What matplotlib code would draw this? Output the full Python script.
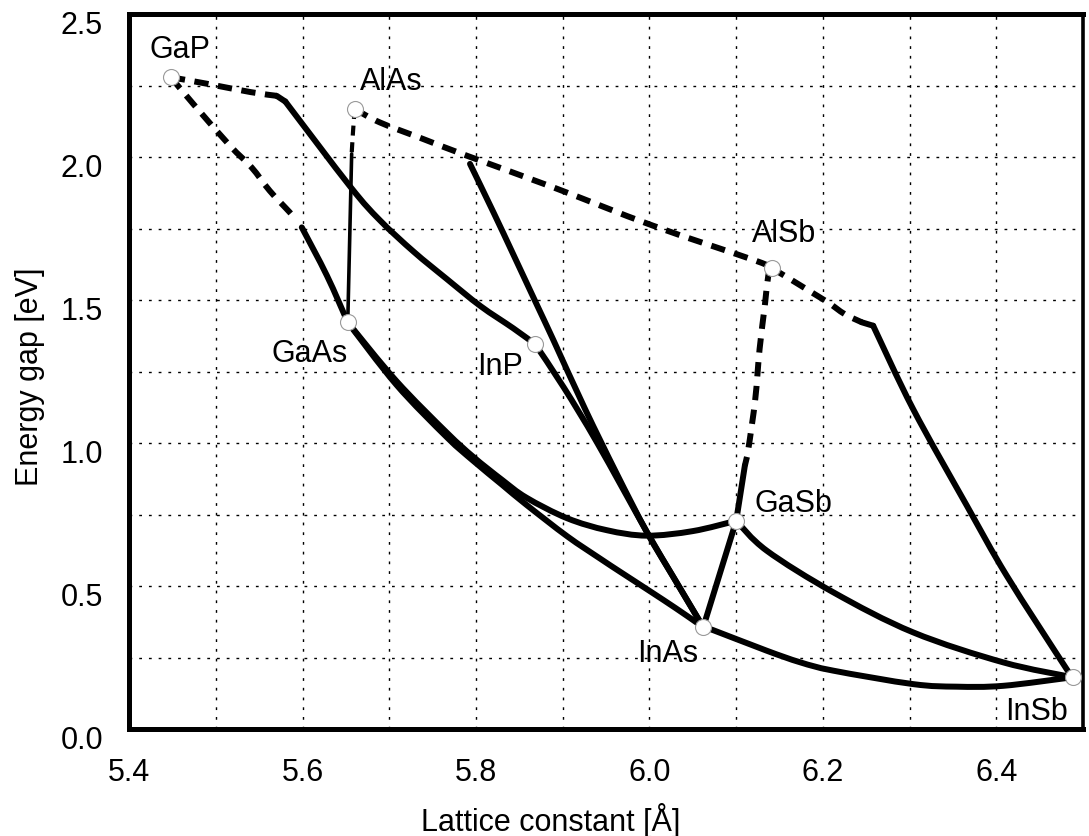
import matplotlib.pyplot as plt
import matplotlib.transforms as mtransforms
from matplotlib.patches import PathPatch
from matplotlib.path import Path
from matplotlib.ticker import MultipleLocator

plt.rcParams['font.family'] = ['Liberation Sans', 'DejaVu Sans']

# binary compounds: lattice constant [A] and band gap [eV]
compounds = ["GaP", "AlAs", "AlSb", "GaAs", "InP", "GaSb", "InAs", "InSb"]
lattice = [5.448, 5.660, 6.141, 5.652, 5.868, 6.100, 6.062, 6.488]
gap = [2.280, 2.169, 1.613, 1.423, 1.347, 0.729, 0.357, 0.182]

# ternary alloys, indirect (dashed) and direct (solid) parts
gap_inp_ind_a = [5.448, 5.490, 5.540, 5.570]
gap_inp_ind_eg = [2.280, 2.257, 2.228, 2.215]
gap_inp_knee_a = [5.570, 5.580]
gap_inp_knee_eg = [2.215, 2.195]
gap_inp_dir_a = [5.580, 5.655, 5.689, 5.728, 5.766, 5.805, 5.843, 5.868]
gap_inp_dir_eg = [2.195, 1.897, 1.780, 1.670, 1.575, 1.480, 1.402, 1.347]

gap_gaas_ind_a = [5.448, 5.474, 5.516, 5.541, 5.562, 5.585, 5.593]
gap_gaas_ind_eg = [2.280, 2.186, 2.041, 1.965, 1.883, 1.808, 1.780]
gap_gaas_dir_a = [5.599, 5.628, 5.652]
gap_gaas_dir_eg = [1.755, 1.586, 1.423]

alas_gaas_ind_a = [5.660, 5.658, 5.6565]
alas_gaas_ind_eg = [2.169, 2.087, 2.012]
alas_gaas_dir_a = [5.6565, 5.652]
alas_gaas_dir_eg = [2.012, 1.423]

alas_alsb_a = [5.660, 5.689, 5.739, 5.789, 5.889, 6.004, 6.122, 6.141]
alas_alsb_eg = [2.169, 2.122, 2.064, 2.006, 1.895, 1.761, 1.639, 1.613]

alas_inas_a = [5.793, 5.820, 5.843, 5.870, 5.889, 5.926, 5.962, 5.997, 6.028, 6.062]
alas_inas_eg = [1.977, 1.808, 1.660, 1.485, 1.362, 1.118, 0.895, 0.689, 0.530, 0.357]

inp_inas_a = [5.868, 5.901, 5.940, 5.997, 6.028, 6.062]
inp_inas_eg = [1.347, 1.196, 1.000, 0.690, 0.530, 0.357]

alsb_gasb_ind_a = [6.141, 6.137, 6.133, 6.127, 6.122, 6.114, 6.110]
alsb_gasb_ind_eg = [1.613, 1.586, 1.481, 1.330, 1.155, 0.980, 0.922]
alsb_gasb_dir_a = [6.110, 6.100]
alsb_gasb_dir_eg = [0.922, 0.729]

alsb_insb_ind_a = [6.141, 6.202, 6.225, 6.245]
alsb_insb_ind_eg = [1.613, 1.500, 1.452, 1.423]
alsb_insb_knee_a = [6.245, 6.258]
alsb_insb_knee_eg = [1.423, 1.411]
alsb_insb_dir_a = [6.258, 6.304, 6.366, 6.412, 6.481, 6.488]
alsb_insb_dir_eg = [1.411, 1.120, 0.782, 0.537, 0.211, 0.182]

gaas_inas_a = [5.652, 5.708, 5.766, 5.797, 5.830, 5.858, 5.905, 5.943, 5.966,
               6.001, 6.030, 6.054, 6.062]
gaas_inas_eg = [1.423, 1.205, 1.022, 0.938, 0.855, 0.785, 0.675, 0.597, 0.551,
                0.482, 0.424, 0.374, 0.357]

gaas_gasb_a = [5.652, 5.708, 5.766, 5.797, 5.830, 5.858, 5.905, 5.951, 5.997,
               6.050, 6.100]
gaas_gasb_eg = [1.423, 1.218, 1.038, 0.952, 0.872, 0.810, 0.738, 0.696, 0.677,
                0.693, 0.729]

inas_gasb_a = [6.062, 6.100]
inas_gasb_eg = [0.357, 0.729]

gasb_insb_a = [6.100, 6.135, 6.212, 6.304, 6.408, 6.488]
gasb_insb_eg = [0.729, 0.625, 0.479, 0.339, 0.234, 0.182]

inas_insb_a = [6.062, 6.074, 6.135, 6.174, 6.212, 6.304, 6.354, 6.408, 6.488]
inas_insb_eg = [0.357, 0.346, 0.275, 0.234, 0.205, 0.158, 0.149, 0.152, 0.182]

# label offsets from each compound marker, in pixels
label_dx = [9, 37, 12, -38, -35, 57, -36, -36]
label_dy = [28, 28, 35, -31, -22, 18, -26, -34]

fig = plt.figure(figsize=(10.89, 8.37), dpi=100)
ax = fig.add_axes([0.1187, 0.1275, 0.8758, 0.8542])

LW = 4.3
DASH = (0, (2.4, 1.6))


def curve(xs, ys, lw=LW, ls='solid'):
    """Smooth curve (Catmull-Rom as cubic Bezier) through the given points."""
    pts = list(zip(xs, ys))
    n = len(pts)
    verts, codes = [pts[0]], [Path.MOVETO]
    for i in range(n - 1):
        p0 = pts[i - 1] if i > 0 else pts[i]
        p1, p2 = pts[i], pts[i + 1]
        p3 = pts[i + 2] if i + 2 < n else pts[i + 1]
        c1 = (p1[0] + (p2[0] - p0[0]) / 6, p1[1] + (p2[1] - p0[1]) / 6)
        c2 = (p2[0] - (p3[0] - p1[0]) / 6, p2[1] - (p3[1] - p1[1]) / 6)
        verts += [c1, c2, p2]
        codes += [Path.CURVE4] * 3
    ax.add_patch(PathPatch(Path(verts, codes), fill=False, edgecolor='black',
                           lw=lw, linestyle=ls, capstyle='round' if ls == 'solid' else 'butt',
                           joinstyle='round', zorder=3))


curve(gap_inp_ind_a, gap_inp_ind_eg, ls=DASH)
curve(gap_inp_knee_a, gap_inp_knee_eg)
curve(gap_inp_dir_a, gap_inp_dir_eg)
curve(gap_gaas_ind_a, gap_gaas_ind_eg, ls=DASH)
curve(gap_gaas_dir_a, gap_gaas_dir_eg)
curve(alas_gaas_ind_a, alas_gaas_ind_eg, lw=3.0, ls=DASH)
curve(alas_gaas_dir_a, alas_gaas_dir_eg, lw=2.6)
curve(alas_alsb_a, alas_alsb_eg, ls=DASH)
curve(alas_inas_a, alas_inas_eg)
curve(inp_inas_a, inp_inas_eg)
curve(alsb_gasb_ind_a, alsb_gasb_ind_eg, ls=DASH)
curve(alsb_gasb_dir_a, alsb_gasb_dir_eg)
curve(alsb_insb_ind_a, alsb_insb_ind_eg, ls=DASH)
curve(alsb_insb_knee_a, alsb_insb_knee_eg)
curve(alsb_insb_dir_a, alsb_insb_dir_eg)
curve(gaas_inas_a, gaas_inas_eg)
curve(gaas_gasb_a, gaas_gasb_eg)
curve(inas_gasb_a, inas_gasb_eg)
curve(gasb_insb_a, gasb_insb_eg)
curve(inas_insb_a, inas_insb_eg)

# binary compound markers
ax.plot(lattice, gap, 'o', ms=11.5, mfc='white', mec='#999999', mew=0.8,
        linestyle='none', zorder=5)

for name, x, y, dx, dy in zip(compounds, lattice, gap, label_dx, label_dy):
    ax.annotate(name, (x, y), xytext=(dx, dy), textcoords='offset pixels',
                ha='center', va='center', fontsize=22, zorder=6)

ax.set_xlim(5.4, 6.5)
ax.set_ylim(0, 2.5)
ax.xaxis.set_major_locator(MultipleLocator(0.2))
ax.xaxis.set_minor_locator(MultipleLocator(0.1))
ax.yaxis.set_major_locator(MultipleLocator(0.5))
ax.yaxis.set_minor_locator(MultipleLocator(0.25))
ax.xaxis.set_major_formatter(lambda v, p: f"{v:.1f}" if v < 6.45 else "")
ax.yaxis.set_major_formatter(lambda v, p: f"{v:.1f}")

ax.grid(which='both', color='black', lw=1.0, linestyle=(0, (2, 5)), zorder=1)
ax.tick_params(which='both', length=0, labelsize=22)
ax.tick_params(axis='x', pad=20)
ax.tick_params(axis='y', pad=19)

for lbl in ax.get_yticklabels():
    lbl.set_transform(lbl.get_transform() +
                      mtransforms.ScaledTranslation(0, -0.07, fig.dpi_scale_trans))

for side in ['left', 'bottom', 'top']:
    ax.spines[side].set_linewidth(3.6)
ax.spines['right'].set_linewidth(2.6)

fig.text(0.506, 0.0203, "Lattice constant [Å]", ha='center', va='center', fontsize=22)
fig.text(0.0275, 0.5496, "Energy gap [eV]", ha='center', va='center',
         rotation=90, fontsize=22)

fig.savefig("out.png", dpi=100)
